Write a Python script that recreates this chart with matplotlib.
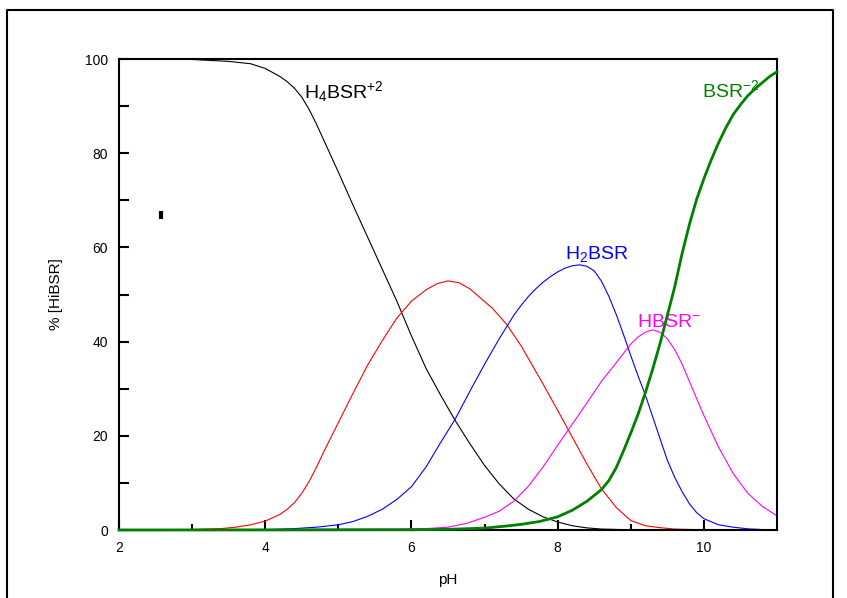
import matplotlib.pyplot as plt
from matplotlib.lines import Line2D

plt.rcParams['font.family'] = ['Liberation Sans', 'DejaVu Sans']
plt.rcParams['mathtext.fontset'] = 'custom'
plt.rcParams['mathtext.rm'] = 'Liberation Sans'

# species distribution (pH, % of total)
ph_h4 = [2.0, 3.0, 3.5, 3.8, 4.0, 4.2, 4.3, 4.4, 4.5, 4.6, 4.7, 4.8, 4.9, 5.0, 5.2,
         5.4, 5.6, 5.8, 6.0, 6.2, 6.4, 6.6, 6.8, 7.0, 7.2, 7.4, 7.6, 7.8, 8.0, 8.2,
         8.4, 8.6, 9.0, 11.0]
h4bsr = [100.0, 99.9, 99.5, 99.0, 98.0, 96.3, 95.2, 93.8, 91.9, 89.3, 86.2, 82.8, 79.4,
         76.0, 69.0, 62.2, 55.4, 48.6, 41.2, 34.3, 28.6, 23.2, 18.3, 13.7, 9.8, 6.6,
         4.4, 2.8, 1.7, 0.9, 0.45, 0.2, 0.05, 0.0]

ph_h3 = [2.0, 3.0, 3.4, 3.6, 3.8, 4.0, 4.2, 4.3, 4.4, 4.5, 4.6, 4.7, 4.8, 5.0, 5.2,
         5.4, 5.6, 5.8, 6.0, 6.2, 6.35, 6.5, 6.65, 6.8, 7.0, 7.1, 7.3, 7.5, 7.6, 7.8,
         8.0, 8.2, 8.4, 8.6, 8.8, 9.0, 9.2, 9.4, 9.6, 10.0, 11.0]
h3bsr = [0.0, 0.1, 0.3, 0.6, 1.1, 1.9, 3.3, 4.4, 5.8, 7.8, 10.3, 13.3, 16.6, 22.8,
         29.0, 35.0, 40.2, 45.0, 48.6, 51.0, 52.3, 52.9, 52.5, 51.2, 48.5, 47.2, 43.7,
         39.1, 36.4, 31.0, 25.4, 19.7, 14.0, 8.7, 4.8, 2.0, 0.9, 0.5, 0.2, 0.05, 0.0]

ph_h2 = [2.0, 4.0, 4.4, 4.7, 5.0, 5.2, 5.4, 5.6, 5.8, 6.0, 6.2, 6.4, 6.6, 6.8, 7.0,
         7.2, 7.4, 7.5, 7.6, 7.7, 7.8, 7.9, 8.0, 8.1, 8.2, 8.3, 8.4, 8.5, 8.6, 8.7,
         8.8, 8.9, 9.0, 9.1, 9.2, 9.3, 9.4, 9.5, 9.6, 9.7, 9.8, 9.9, 10.0, 10.2, 10.4,
         10.6, 10.8, 11.0]
h2bsr = [0.0, 0.05, 0.3, 0.6, 1.1, 1.8, 2.9, 4.4, 6.5, 9.2, 13.4, 18.6, 23.6, 29.5,
         35.2, 40.6, 45.6, 47.7, 49.6, 51.2, 52.6, 53.8, 54.8, 55.6, 56.1, 56.3, 56.0,
         55.0, 52.8, 49.6, 45.8, 41.5, 37.0, 32.7, 28.6, 24.0, 19.4, 14.8, 11.2, 8.2,
         5.6, 3.7, 2.4, 1.1, 0.6, 0.25, 0.1, 0.0]

ph_h1 = [2.0, 5.8, 6.2, 6.5, 6.75, 7.0, 7.2, 7.4, 7.6, 7.8, 8.0, 8.2, 8.4, 8.6, 8.8,
         9.0, 9.1, 9.2, 9.3, 9.4, 9.5, 9.6, 9.7, 9.8, 9.9, 10.0, 10.2, 10.4, 10.6,
         10.8, 11.0]
hbsr = [0.0, 0.2, 0.3, 0.6, 1.4, 2.7, 4.0, 6.1, 9.3, 13.4, 18.0, 22.5, 27.0, 31.6,
        35.5, 39.5, 41.0, 42.0, 42.5, 42.0, 40.6, 38.3, 35.3, 31.6, 27.9, 24.3, 17.6,
        12.0, 7.8, 5.0, 3.0]

ph_h0 = [2.0, 6.0, 6.5, 7.0, 7.3, 7.5, 7.75, 8.0, 8.2, 8.4, 8.6, 8.7, 8.8, 8.9, 9.0,
         9.1, 9.2, 9.3, 9.4, 9.5, 9.6, 9.7, 9.8, 9.9, 10.0, 10.1, 10.2, 10.3, 10.4,
         10.5, 10.6, 10.7, 10.8, 10.9, 11.0]
bsr = [0.0, 0.05, 0.15, 0.4, 0.85, 1.2, 1.8, 2.8, 4.2, 6.1, 8.6, 10.5, 13.2, 16.8,
       20.6, 24.6, 29.2, 34.2, 39.6, 45.6, 51.6, 58.6, 64.8, 70.2, 74.6, 78.6, 82.2,
       85.4, 88.2, 90.3, 92.2, 93.7, 95.0, 96.3, 97.3]

stray_ph = [2.57]
stray_val = [66.9]

fig = plt.figure(figsize=(8.47, 5.98), dpi=100)
ax = fig.add_axes([0.1405, 0.1137, 0.7769, 0.7876])

ax.plot(ph_h4, h4bsr, color='black', lw=0.8)
ax.plot(ph_h3, h3bsr, color='red', lw=0.8)
ax.plot(ph_h2, h2bsr, color='blue', lw=0.8)
ax.plot(ph_h1, hbsr, color='magenta', lw=0.8)
ax.plot(ph_h0, bsr, color='green', lw=2.0, clip_on=False, zorder=5)
ax.plot(stray_ph, stray_val, ls='none', marker='|', ms=6, mew=3, color='black')

ax.set_xlim(2, 11)
ax.set_ylim(0, 100)
ax.set_xticks([2, 4, 6, 8, 10])
ax.set_xticks([3, 5, 7, 9], minor=True)
ax.set_yticks([0, 20, 40, 60, 80, 100])
ax.set_yticks([10, 30, 50, 70, 90], minor=True)
ax.tick_params(which='both', direction='in', width=1.5, labelsize=10)
ax.tick_params(axis='x', which='major', length=7, pad=8)
ax.tick_params(axis='x', which='minor', length=4)
ax.tick_params(axis='y', which='both', length=7, pad=8)
for s in ax.spines.values():
    s.set_linewidth(1.5)

ax.set_xlabel('pH', fontsize=11, labelpad=13)
ax.set_ylabel('% [HiBSR]', fontsize=11, labelpad=16)

ax.text(4.53, 91.7, r'$\mathregular{H_4BSR^{+2}}$', color='black', fontsize=14, va='baseline')
ax.text(8.10, 57.5, r'$\mathregular{H_2BSR}$', color='blue', fontsize=14, va='baseline')
ax.text(9.09, 43.2, r'$\mathregular{HBSR^{-}}$', color='magenta', fontsize=14, va='baseline')
ax.text(9.98, 91.9, r'$\mathregular{BSR^{-2}}$', color='green', fontsize=14, va='baseline')

# page frame around the graph
fig.add_artist(Line2D([7 / 847, 7 / 847, 833 / 847, 833 / 847],
                      [0, 1 - 10 / 598, 1 - 10 / 598, 0],
                      transform=fig.transFigure, color='black', lw=1.5))

fig.savefig('out.png', dpi=100)
